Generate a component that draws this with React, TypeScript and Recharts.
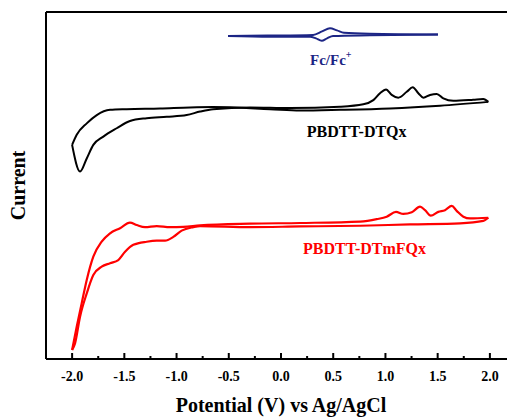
import React from "react";
import { LineChart, Line, XAxis, YAxis, ReferenceLine, ReferenceDot } from "recharts";

// potential (V) vs current (a.u.); each CV loop split into its anodic and cathodic sweeps
const fcAnodic = [
  { x: -0.507, y: 93.1 }, { x: -0.105, y: 93.2 }, { x: 0.307, y: 93.4 }, { x: 0.393, y: 94.4 },
  { x: 0.469, y: 95.3 }, { x: 0.536, y: 94.7 }, { x: 0.603, y: 94.0 }, { x: 0.852, y: 93.7 },
  { x: 1.503, y: 93.5 },
];
const fcCathodic = [
  { x: 1.503, y: 93.5 }, { x: 0.852, y: 93.3 }, { x: 0.498, y: 93.1 }, { x: 0.441, y: 92.4 },
  { x: 0.39, y: 91.7 }, { x: 0.335, y: 92.4 }, { x: 0.278, y: 92.9 }, { x: -0.105, y: 92.9 },
  { x: -0.507, y: 93.1 },
];

const dtqxCathodic = [
  { x: 1.985, y: 74.1 }, { x: 1.523, y: 73.0 }, { x: 1.044, y: 72.2 }, { x: 0.565, y: 71.8 },
  { x: 0.182, y: 71.6 }, { x: -0.105, y: 72.0 }, { x: -0.651, y: 72.6 }, { x: -0.871, y: 72.5 },
  { x: -1.158, y: 72.2 }, { x: -1.477, y: 72.0 }, { x: -1.637, y: 71.8 }, { x: -1.764, y: 70.3 },
  { x: -1.86, y: 67.9 }, { x: -1.956, y: 64.6 }, { x: -2.0, y: 61.7 },
];
const dtqxAnodic = [
  { x: -2.0, y: 61.7 }, { x: -1.924, y: 54.0 }, { x: -1.86, y: 57.8 }, { x: -1.797, y: 61.7 },
  { x: -1.701, y: 64.1 }, { x: -1.573, y: 66.5 }, { x: -1.446, y: 68.6 }, { x: -1.286, y: 69.4 },
  { x: -1.094, y: 69.8 }, { x: -0.903, y: 70.3 }, { x: -0.775, y: 71.3 }, { x: -0.651, y: 72.0 },
  { x: -0.297, y: 72.5 }, { x: 0.086, y: 72.3 }, { x: 0.565, y: 72.7 }, { x: 0.788, y: 73.4 },
  { x: 0.884, y: 74.6 }, { x: 0.948, y: 76.6 }, { x: 1.006, y: 77.7 }, { x: 1.06, y: 76.1 },
  { x: 1.123, y: 75.3 }, { x: 1.204, y: 77.0 }, { x: 1.261, y: 78.3 }, { x: 1.315, y: 76.6 },
  { x: 1.363, y: 75.3 }, { x: 1.427, y: 76.1 }, { x: 1.491, y: 76.4 }, { x: 1.554, y: 75.1 },
  { x: 1.65, y: 74.4 }, { x: 1.841, y: 74.7 }, { x: 1.937, y: 74.9 }, { x: 1.985, y: 74.1 },
];

const dtmfqxAnodic = [
  { x: -2.0, y: 2.6 }, { x: -1.956, y: 9.3 }, { x: -1.908, y: 16.1 }, { x: -1.86, y: 22.8 },
  { x: -1.797, y: 29.5 }, { x: -1.717, y: 33.8 }, { x: -1.637, y: 36.2 }, { x: -1.541, y: 37.7 },
  { x: -1.446, y: 39.3 }, { x: -1.381, y: 38.6 }, { x: -1.302, y: 38.0 }, { x: -1.19, y: 38.3 },
  { x: -1.063, y: 38.0 }, { x: -0.935, y: 38.1 }, { x: -0.775, y: 38.5 }, { x: -0.297, y: 39.0 },
  { x: 0.182, y: 39.2 }, { x: 0.757, y: 39.6 }, { x: 0.917, y: 40.3 }, { x: 1.012, y: 41.0 },
  { x: 1.101, y: 42.4 }, { x: 1.171, y: 41.8 }, { x: 1.252, y: 42.3 }, { x: 1.331, y: 43.9 },
  { x: 1.379, y: 42.9 }, { x: 1.434, y: 41.3 }, { x: 1.506, y: 42.4 }, { x: 1.57, y: 42.9 },
  { x: 1.635, y: 44.1 }, { x: 1.682, y: 42.7 }, { x: 1.746, y: 41.0 }, { x: 1.81, y: 40.5 },
  { x: 1.985, y: 40.7 },
];
const dtmfqxCathodic = [
  { x: 1.985, y: 40.7 }, { x: 1.937, y: 39.8 }, { x: 1.714, y: 39.1 }, { x: 1.235, y: 38.8 },
  { x: 0.757, y: 38.4 }, { x: 0.182, y: 38.2 }, { x: -0.297, y: 38.0 }, { x: -0.775, y: 38.3 },
  { x: -0.84, y: 38.0 }, { x: -0.951, y: 37.0 }, { x: -1.031, y: 35.2 }, { x: -1.11, y: 34.1 },
  { x: -1.19, y: 34.1 }, { x: -1.286, y: 33.8 }, { x: -1.414, y: 32.9 }, { x: -1.493, y: 30.9 },
  { x: -1.558, y: 28.5 }, { x: -1.637, y: 27.6 }, { x: -1.717, y: 26.6 }, { x: -1.797, y: 24.2 },
  { x: -1.86, y: 18.9 }, { x: -1.924, y: 12.2 }, { x: -1.972, y: 4.5 }, { x: -2.0, y: 2.6 },
];

const xTicks = [-2, -1.75, -1.5, -1.25, -1, -0.75, -0.5, -0.25, 0, 0.25, 0.5, 0.75, 1, 1.25, 1.5, 1.75, 2];

const FONT = "'Liberation Serif', 'Times New Roman', serif";
const NAVY = "#1c2585";
const RED = "#ff0000";

const isMajor = (v: number) => Math.abs(v * 2 - Math.round(v * 2)) < 1e-6;

const AxisTick = (props: any) => {
  const { x, y, payload } = props;
  const v = payload.value as number;
  const major = isMajor(v);
  return (
    <g>
      <line x1={x} x2={x} y1={y} y2={y - (major ? 6 : 3)} stroke="#000" strokeWidth={2} />
      {major && (
        <text x={x} y={y + 22} textAnchor="middle" fontFamily={FONT} fontWeight="bold" fontSize={14} fill="#000">
          {v.toFixed(1)}
        </text>
      )}
    </g>
  );
};

const XTitle = (props: any) => {
  const vb = props.viewBox;
  return (
    <text x={vb.x + vb.width / 2} y={vb.y + 53} textAnchor="middle" fontFamily={FONT} fontWeight="bold" fontSize={20} fill="#000">
      Potential (V) vs Ag/AgCl
    </text>
  );
};

const YTitle = (props: any) => {
  const vb = props.viewBox;
  const cx = vb.x + 25;
  const cy = vb.y + vb.height / 2;
  return (
    <text x={cx} y={cy} transform={`rotate(-90, ${cx}, ${cy})`} textAnchor="middle" fontFamily={FONT} fontWeight="bold" fontSize={20} fill="#000">
      Current
    </text>
  );
};

const CurveLabel = (props: any) => {
  const { viewBox, text, color, sup, size } = props;
  const x = viewBox.x + (viewBox.width || 0) / 2;
  const y = viewBox.y + (viewBox.height || 0) / 2;
  return (
    <text x={x} y={y} fontFamily={FONT} fontWeight="bold" fontSize={size} fill={color}>
      {text}
      {sup && (
        <tspan dy={-7} fontSize={10}>
          {sup}
        </tspan>
      )}
    </text>
  );
};

const sweep = (data: { x: number; y: number }[], color: string, width = 2) => (
  <Line
    data={data}
    dataKey="y"
    type="monotoneX"
    stroke={color}
    strokeWidth={width}
    strokeLinejoin="round"
    dot={false}
    isAnimationActive={false}
  />
);

export default function App() {
  return (
    <div style={{ position: "fixed", left: 0, top: 0, width: 507, height: 417, overflow: "hidden", background: "#fff" }}>
      <LineChart width={516} height={417} margin={{ top: 12, right: 0, bottom: 0, left: 0 }}>
        <XAxis
          dataKey="x"
          type="number"
          domain={[-2.25, 2.25]}
          ticks={xTicks}
          interval={0}
          allowDataOverflow
          height={58}
          tickSize={0}
          tickMargin={0}
          tick={<AxisTick />}
          axisLine={{ stroke: "#000", strokeWidth: 2 }}
          label={<XTitle />}
        />
        <YAxis
          type="number"
          domain={[0, 100]}
          allowDataOverflow
          width={46}
          tick={false}
          tickLine={false}
          axisLine={{ stroke: "#000", strokeWidth: 2 }}
          label={<YTitle />}
        />
        <ReferenceLine y={100} stroke="#000" strokeWidth={2} />
        {sweep(fcAnodic, NAVY)}
        {sweep(fcCathodic, NAVY)}
        {sweep(dtqxCathodic, "#000")}
        {sweep(dtqxAnodic, "#000")}
        {sweep(dtmfqxAnodic, RED, 2.2)}
        {sweep(dtmfqxCathodic, RED, 2.2)}
        <ReferenceDot x={0.278} y={84.7} r={0} stroke="none" fill="none" label={<CurveLabel text="Fc/Fc" sup="+" color={NAVY} size={15} />} />
        <ReferenceDot x={0.246} y={63.9} r={0} stroke="none" fill="none" label={<CurveLabel text="PBDTT-DTQx" color="#000" size={16} />} />
        <ReferenceDot x={0.211} y={30.3} r={0} stroke="none" fill="none" label={<CurveLabel text="PBDTT-DTmFQx" color={RED} size={16} />} />
      </LineChart>
    </div>
  );
}
